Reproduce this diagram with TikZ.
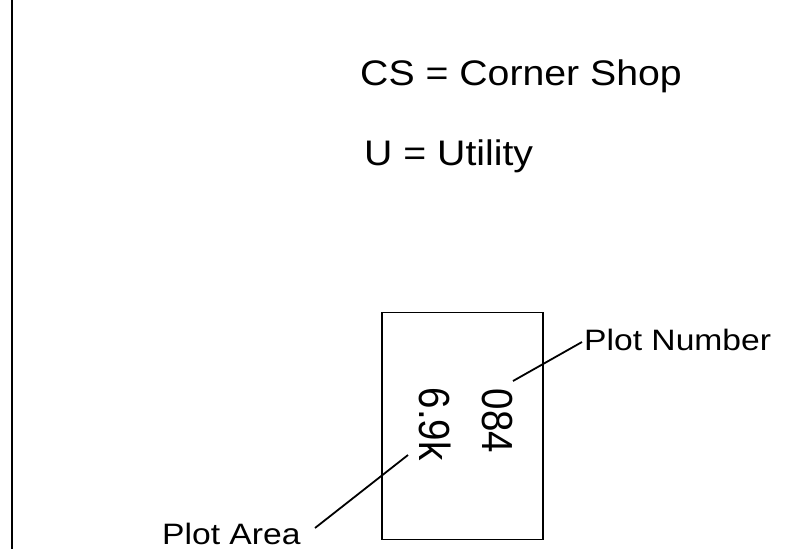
\documentclass[tikz,border=0pt]{standalone}
\usepackage{fontspec}
\setmainfont{Liberation Sans}
\begin{document}
\begin{tikzpicture}[x=1pt,y=-1pt,
  bigtxt/.style={inner sep=0pt, xscale=1.105, font=\fontsize{35.5}{42}\selectfont},
  lbltxt/.style={inner sep=0pt, xscale=1.14, font=\fontsize{29.5}{35}\selectfont},
  plottxt/.style={inner sep=0pt, xscale=1.13, rotate=-90, font=\fontsize{38.5}{45}\selectfont},
  leader/.style={draw=black, line width=1.8pt}]
\useasboundingbox (0,0) rectangle (808,549);
% left border line
\coordinate (lt) at (12,0);
\coordinate (lb) at (12,549);
\draw[line width=2.2pt] (lt) -- (lb);
% legend
\node[bigtxt, anchor=base west] (cs) at (360,85) {CS = Corner Shop};
\node[bigtxt, anchor=base west] (u) at (364,165) {U = Utility};
% plot rectangle
\node[draw, line width=1.5pt, minimum width=161pt, minimum height=227pt, inner sep=0pt] (plot) at (462.5,426) {};
\node[plottxt] (num) at (497,421) {084};
\node[plottxt] (area) at (435,424) {6.9k};
% labels
\node[lbltxt, anchor=base west] (pnlbl) at (584,350) {Plot Number};
\node[lbltxt, anchor=base west] (palbl) at (162,544) {Plot Area};
% leader lines
\coordinate (pnA) at (513,381);
\coordinate (pnB) at (582,342);
\coordinate (paA) at (408,455);
\coordinate (paB) at (315,528);
\draw[leader] (pnA) -- (pnB);
\draw[leader] (paA) -- (paB);
\end{tikzpicture}
\end{document}
